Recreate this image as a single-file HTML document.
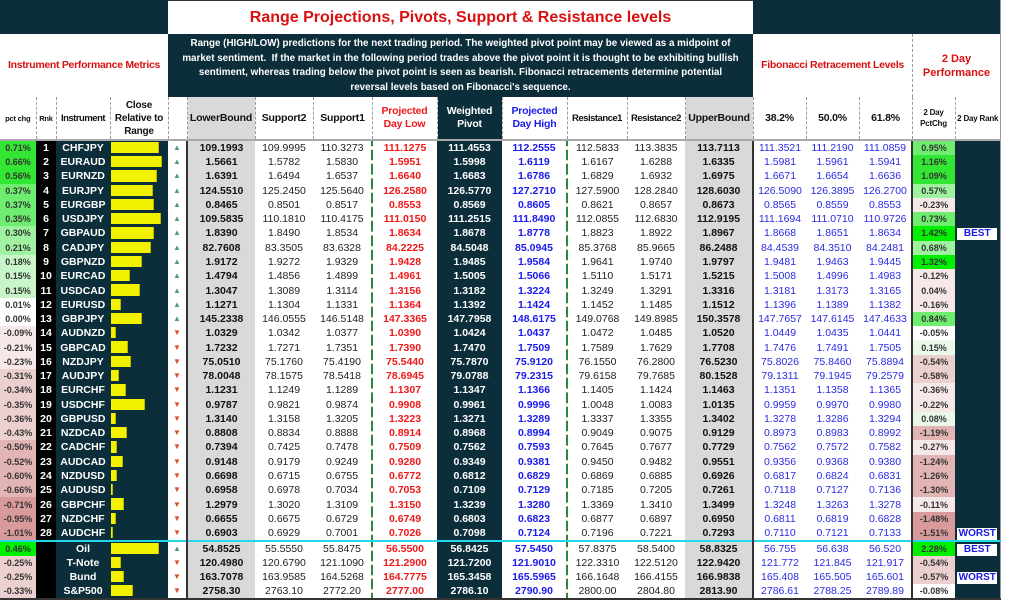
<!DOCTYPE html>
<html><head><meta charset="utf-8"><style>
*{margin:0;padding:0;box-sizing:border-box}
body{width:1024px;height:614px;background:#fff;font-family:"Liberation Sans",Tahoma,sans-serif;position:relative;overflow:hidden}
.abs{position:absolute}
.dk{background:#0c2e3b}
table{position:absolute;left:0;top:97px;width:1000px;border-collapse:collapse;table-layout:fixed}
td{font-size:10.5px;text-align:center;white-space:nowrap;overflow:hidden;height:14.28px;line-height:14px;padding:0}
thead td{height:43px;white-space:normal;font-weight:bold;font-size:10.5px;line-height:13px;border-bottom:2px solid #aaa;border-left:1px dashed #999;color:#111;letter-spacing:-0.2px}
.p{font-size:9px;color:#333;font-weight:bold}
.k{background:#000;color:#fff;font-weight:bold}
.n{background:#0c2e3b;color:#fff;font-weight:bold}
.b{background:#0c2e3b;position:relative;text-align:left}
.b i{position:absolute;left:1px;top:1px;bottom:2px;background:#f2f200;border-right:1px solid #b8b800}
.a{font-size:8px}
.up{color:#4f9a85}.dn{color:#d4512c}
.lb{background:#d9d9d9;font-weight:bold;color:#111;border-left:2px solid #333}
.s{color:#222}
.pl{color:#f01818;font-weight:bold;border-left:2px dashed #2a8a3a}
.wp{background:#0c2e3b;color:#fff;font-weight:bold}
.ph{color:#1a1aee;font-weight:bold}
.r1{color:#222;border-left:2px dashed #2a8a3a}
.ub{background:#d9d9d9;font-weight:bold;color:#111;border-right:2px solid #333}
.f{color:#2a2ae6}
.d{font-size:9px;font-weight:bold;color:#333;border-left:2px solid #333}
.x{background:#0c2e3b;border-right:1px solid #999}
.x span{display:inline-block;background:#fff;color:#1a1ae6;font-weight:bold;width:40px;line-height:12px;font-size:10px}
.g0{background:#00f000}.g1{background:#33e633}.g2{background:#6eed6e}.g3{background:#9ff29f}.g4{background:#c8f6c8}.g5{background:#eaf8ea}.w{background:#fff}
.r1c{background:#f7e8e8}.r2c{background:#ecd0d0}.r3c{background:#e2b4b4}.r4c{background:#d89a9a}
tr.cy td{border-top:2px solid #22d8e8}
tbody tr:last-child td{border-bottom:2px solid #333}
</style></head><body>
<div class="abs dk" style="left:0;top:0;width:168px;height:34px"></div>
<div class="abs" style="left:168px;top:0;width:585px;height:34px;color:#d81010;font-weight:bold;font-size:16px;text-align:center;line-height:34px;border-top:1px solid #333">Range Projections, Pivots, Support &amp; Resistance levels</div>
<div class="abs dk" style="left:753px;top:0;width:247px;height:34px"></div>
<div class="abs" style="left:0;top:34px;width:168px;height:63px;color:#d81010;font-weight:bold;font-size:10.5px;text-align:center;line-height:63px;white-space:nowrap;letter-spacing:-0.3px">Instrument Performance Metrics</div>
<div class="abs dk" style="left:168px;top:34px;width:585px;height:63px;color:#fff;font-weight:bold;font-size:9.8px;text-align:center;line-height:14.5px;padding:3px 0 0;white-space:nowrap">Range (HIGH/LOW) predictions for the next trading period. The weighted pivot point may be viewed as a midpoint of<br>market sentiment.&nbsp; If the market in the following period trades above the pivot point it is thought to be exhibiting bullish<br>sentiment, whereas trading below the pivot point is seen as bearish. Fibonacci retracements determine potential<br>reversal levels based on Fibonacci's sequence.</div>
<div class="abs" style="left:753px;top:34px;width:159px;height:63px;color:#d81010;font-weight:bold;font-size:10.5px;text-align:center;line-height:63px;white-space:nowrap;letter-spacing:-0.3px">Fibonacci Retracement Levels</div>
<div class="abs" style="left:912px;top:34px;width:88px;height:63px;color:#d81010;font-weight:bold;font-size:11px;text-align:center;line-height:14px;padding-top:18px;border-left:1px dashed #999">2 Day<br>Performance</div>
<div class="abs" style="left:1000px;top:0;width:1px;height:597px;background:#999"></div>
<table>
<colgroup><col style="width:36px"><col style="width:20px"><col style="width:54px"><col style="width:58px"><col style="width:19px"><col style="width:68px"><col style="width:58px"><col style="width:59px"><col style="width:65px"><col style="width:65px"><col style="width:65px"><col style="width:60px"><col style="width:58px"><col style="width:68px"><col style="width:53px"><col style="width:53px"><col style="width:53px"><col style="width:43px"><col style="width:45px"></colgroup>
<thead><tr><td style="font-size:7.5px;border-left:none">pct chg</td><td style="font-size:7.5px">Rnk</td><td style="font-size:9.5px;letter-spacing:-0.5px">Instrument</td><td style="font-size:10px">Close Relative to Range</td><td></td><td style="background:#d9d9d9">LowerBound</td><td>Support2</td><td>Support1</td><td style="color:#f01818">Projected Day Low</td><td style="background:#0c2e3b;color:#fff">Weighted Pivot</td><td style="color:#1a1aee">Projected Day High</td><td style="font-size:9.5px;letter-spacing:-0.5px">Resistance1</td><td style="font-size:9.5px;letter-spacing:-0.5px">Resistance2</td><td style="background:#d9d9d9">UpperBound</td><td>38.2%</td><td>50.0%</td><td>61.8%</td><td style="font-size:8px;line-height:11px">2 Day PctChg</td><td style="font-size:8px;line-height:11px">2 Day Rank</td></tr></thead>
<tbody>
<tr><td class="p g1">0.71%</td><td class="k">1</td><td class="n">CHFJPY</td><td class="b"><i style="width:83%"></i></td><td class="a up">▲</td><td class="lb">109.1993</td><td class="s">109.9995</td><td class="s">110.3273</td><td class="pl">111.1275</td><td class="wp">111.4553</td><td class="ph">112.2555</td><td class="r1">112.5833</td><td class="s">113.3835</td><td class="ub">113.7113</td><td class="f">111.3521</td><td class="f">111.2190</td><td class="f">111.0859</td><td class="d g2">0.95%</td><td class="x"></td></tr>
<tr><td class="p g1">0.66%</td><td class="k">2</td><td class="n">EURAUD</td><td class="b"><i style="width:88%"></i></td><td class="a up">▲</td><td class="lb">1.5661</td><td class="s">1.5782</td><td class="s">1.5830</td><td class="pl">1.5951</td><td class="wp">1.5998</td><td class="ph">1.6119</td><td class="r1">1.6167</td><td class="s">1.6288</td><td class="ub">1.6335</td><td class="f">1.5981</td><td class="f">1.5961</td><td class="f">1.5941</td><td class="d g1">1.16%</td><td class="x"></td></tr>
<tr><td class="p g1">0.56%</td><td class="k">3</td><td class="n">EURNZD</td><td class="b"><i style="width:80%"></i></td><td class="a up">▲</td><td class="lb">1.6391</td><td class="s">1.6494</td><td class="s">1.6537</td><td class="pl">1.6640</td><td class="wp">1.6683</td><td class="ph">1.6786</td><td class="r1">1.6829</td><td class="s">1.6932</td><td class="ub">1.6975</td><td class="f">1.6671</td><td class="f">1.6654</td><td class="f">1.6636</td><td class="d g1">1.09%</td><td class="x"></td></tr>
<tr><td class="p g2">0.37%</td><td class="k">4</td><td class="n">EURJPY</td><td class="b"><i style="width:73%"></i></td><td class="a up">▲</td><td class="lb">124.5510</td><td class="s">125.2450</td><td class="s">125.5640</td><td class="pl">126.2580</td><td class="wp">126.5770</td><td class="ph">127.2710</td><td class="r1">127.5900</td><td class="s">128.2840</td><td class="ub">128.6030</td><td class="f">126.5090</td><td class="f">126.3895</td><td class="f">126.2700</td><td class="d g3">0.57%</td><td class="x"></td></tr>
<tr><td class="p g2">0.37%</td><td class="k">5</td><td class="n">EURGBP</td><td class="b"><i style="width:74%"></i></td><td class="a up">▲</td><td class="lb">0.8465</td><td class="s">0.8501</td><td class="s">0.8517</td><td class="pl">0.8553</td><td class="wp">0.8569</td><td class="ph">0.8605</td><td class="r1">0.8621</td><td class="s">0.8657</td><td class="ub">0.8673</td><td class="f">0.8565</td><td class="f">0.8559</td><td class="f">0.8553</td><td class="d r1c">-0.23%</td><td class="x"></td></tr>
<tr><td class="p g2">0.35%</td><td class="k">6</td><td class="n">USDJPY</td><td class="b"><i style="width:86%"></i></td><td class="a up">▲</td><td class="lb">109.5835</td><td class="s">110.1810</td><td class="s">110.4175</td><td class="pl">111.0150</td><td class="wp">111.2515</td><td class="ph">111.8490</td><td class="r1">112.0855</td><td class="s">112.6830</td><td class="ub">112.9195</td><td class="f">111.1694</td><td class="f">111.0710</td><td class="f">110.9726</td><td class="d g2">0.73%</td><td class="x"></td></tr>
<tr><td class="p g3">0.30%</td><td class="k">7</td><td class="n">GBPAUD</td><td class="b"><i style="width:74%"></i></td><td class="a up">▲</td><td class="lb">1.8390</td><td class="s">1.8490</td><td class="s">1.8534</td><td class="pl">1.8634</td><td class="wp">1.8678</td><td class="ph">1.8778</td><td class="r1">1.8823</td><td class="s">1.8922</td><td class="ub">1.8967</td><td class="f">1.8668</td><td class="f">1.8651</td><td class="f">1.8634</td><td class="d g0">1.42%</td><td class="x"><span>BEST</span></td></tr>
<tr><td class="p g3">0.21%</td><td class="k">8</td><td class="n">CADJPY</td><td class="b"><i style="width:69%"></i></td><td class="a up">▲</td><td class="lb">82.7608</td><td class="s">83.3505</td><td class="s">83.6328</td><td class="pl">84.2225</td><td class="wp">84.5048</td><td class="ph">85.0945</td><td class="r1">85.3768</td><td class="s">85.9665</td><td class="ub">86.2488</td><td class="f">84.4539</td><td class="f">84.3510</td><td class="f">84.2481</td><td class="d g3">0.68%</td><td class="x"></td></tr>
<tr><td class="p g4">0.18%</td><td class="k">9</td><td class="n">GBPNZD</td><td class="b"><i style="width:54%"></i></td><td class="a up">▲</td><td class="lb">1.9172</td><td class="s">1.9272</td><td class="s">1.9329</td><td class="pl">1.9428</td><td class="wp">1.9485</td><td class="ph">1.9584</td><td class="r1">1.9641</td><td class="s">1.9740</td><td class="ub">1.9797</td><td class="f">1.9481</td><td class="f">1.9463</td><td class="f">1.9445</td><td class="d g0">1.32%</td><td class="x"></td></tr>
<tr><td class="p g4">0.15%</td><td class="k">10</td><td class="n">EURCAD</td><td class="b"><i style="width:33%"></i></td><td class="a up">▲</td><td class="lb">1.4794</td><td class="s">1.4856</td><td class="s">1.4899</td><td class="pl">1.4961</td><td class="wp">1.5005</td><td class="ph">1.5066</td><td class="r1">1.5110</td><td class="s">1.5171</td><td class="ub">1.5215</td><td class="f">1.5008</td><td class="f">1.4996</td><td class="f">1.4983</td><td class="d r1c">-0.12%</td><td class="x"></td></tr>
<tr><td class="p g4">0.15%</td><td class="k">11</td><td class="n">USDCAD</td><td class="b"><i style="width:50%"></i></td><td class="a up">▲</td><td class="lb">1.3047</td><td class="s">1.3089</td><td class="s">1.3114</td><td class="pl">1.3156</td><td class="wp">1.3182</td><td class="ph">1.3224</td><td class="r1">1.3249</td><td class="s">1.3291</td><td class="ub">1.3316</td><td class="f">1.3181</td><td class="f">1.3173</td><td class="f">1.3165</td><td class="d r1c">0.04%</td><td class="x"></td></tr>
<tr><td class="p w">0.01%</td><td class="k">12</td><td class="n">EURUSD</td><td class="b"><i style="width:18%"></i></td><td class="a up">▲</td><td class="lb">1.1271</td><td class="s">1.1304</td><td class="s">1.1331</td><td class="pl">1.1364</td><td class="wp">1.1392</td><td class="ph">1.1424</td><td class="r1">1.1452</td><td class="s">1.1485</td><td class="ub">1.1512</td><td class="f">1.1396</td><td class="f">1.1389</td><td class="f">1.1382</td><td class="d r1c">-0.16%</td><td class="x"></td></tr>
<tr><td class="p w">0.00%</td><td class="k">13</td><td class="n">GBPJPY</td><td class="b"><i style="width:54%"></i></td><td class="a up">▲</td><td class="lb">145.2338</td><td class="s">146.0555</td><td class="s">146.5148</td><td class="pl">147.3365</td><td class="wp">147.7958</td><td class="ph">148.6175</td><td class="r1">149.0768</td><td class="s">149.8985</td><td class="ub">150.3578</td><td class="f">147.7657</td><td class="f">147.6145</td><td class="f">147.4633</td><td class="d g2">0.84%</td><td class="x"></td></tr>
<tr><td class="p r1c">-0.09%</td><td class="k">14</td><td class="n">AUDNZD</td><td class="b"><i style="width:8%"></i></td><td class="a dn">▼</td><td class="lb">1.0329</td><td class="s">1.0342</td><td class="s">1.0377</td><td class="pl">1.0390</td><td class="wp">1.0424</td><td class="ph">1.0437</td><td class="r1">1.0472</td><td class="s">1.0485</td><td class="ub">1.0520</td><td class="f">1.0449</td><td class="f">1.0435</td><td class="f">1.0441</td><td class="d w">-0.05%</td><td class="x"></td></tr>
<tr><td class="p r1c">-0.21%</td><td class="k">15</td><td class="n">GBPCAD</td><td class="b"><i style="width:30%"></i></td><td class="a dn">▼</td><td class="lb">1.7232</td><td class="s">1.7271</td><td class="s">1.7351</td><td class="pl">1.7390</td><td class="wp">1.7470</td><td class="ph">1.7509</td><td class="r1">1.7589</td><td class="s">1.7629</td><td class="ub">1.7708</td><td class="f">1.7476</td><td class="f">1.7491</td><td class="f">1.7505</td><td class="d g5">0.15%</td><td class="x"></td></tr>
<tr><td class="p r1c">-0.23%</td><td class="k">16</td><td class="n">NZDJPY</td><td class="b"><i style="width:35%"></i></td><td class="a dn">▼</td><td class="lb">75.0510</td><td class="s">75.1760</td><td class="s">75.4190</td><td class="pl">75.5440</td><td class="wp">75.7870</td><td class="ph">75.9120</td><td class="r1">76.1550</td><td class="s">76.2800</td><td class="ub">76.5230</td><td class="f">75.8026</td><td class="f">75.8460</td><td class="f">75.8894</td><td class="d r2c">-0.54%</td><td class="x"></td></tr>
<tr><td class="p r2c">-0.31%</td><td class="k">17</td><td class="n">AUDJPY</td><td class="b"><i style="width:13%"></i></td><td class="a dn">▼</td><td class="lb">78.0048</td><td class="s">78.1575</td><td class="s">78.5418</td><td class="pl">78.6945</td><td class="wp">79.0788</td><td class="ph">79.2315</td><td class="r1">79.6158</td><td class="s">79.7685</td><td class="ub">80.1528</td><td class="f">79.1311</td><td class="f">79.1945</td><td class="f">79.2579</td><td class="d r2c">-0.58%</td><td class="x"></td></tr>
<tr><td class="p r2c">-0.34%</td><td class="k">18</td><td class="n">EURCHF</td><td class="b"><i style="width:25%"></i></td><td class="a dn">▼</td><td class="lb">1.1231</td><td class="s">1.1249</td><td class="s">1.1289</td><td class="pl">1.1307</td><td class="wp">1.1347</td><td class="ph">1.1366</td><td class="r1">1.1405</td><td class="s">1.1424</td><td class="ub">1.1463</td><td class="f">1.1351</td><td class="f">1.1358</td><td class="f">1.1365</td><td class="d r1c">-0.36%</td><td class="x"></td></tr>
<tr><td class="p r2c">-0.35%</td><td class="k">19</td><td class="n">USDCHF</td><td class="b"><i style="width:58%"></i></td><td class="a dn">▼</td><td class="lb">0.9787</td><td class="s">0.9821</td><td class="s">0.9874</td><td class="pl">0.9908</td><td class="wp">0.9961</td><td class="ph">0.9996</td><td class="r1">1.0048</td><td class="s">1.0083</td><td class="ub">1.0135</td><td class="f">0.9959</td><td class="f">0.9970</td><td class="f">0.9980</td><td class="d r1c">-0.22%</td><td class="x"></td></tr>
<tr><td class="p r2c">-0.36%</td><td class="k">20</td><td class="n">GBPUSD</td><td class="b"><i style="width:8%"></i></td><td class="a dn">▼</td><td class="lb">1.3140</td><td class="s">1.3158</td><td class="s">1.3205</td><td class="pl">1.3223</td><td class="wp">1.3271</td><td class="ph">1.3289</td><td class="r1">1.3337</td><td class="s">1.3355</td><td class="ub">1.3402</td><td class="f">1.3278</td><td class="f">1.3286</td><td class="f">1.3294</td><td class="d g5">0.08%</td><td class="x"></td></tr>
<tr><td class="p r2c">-0.43%</td><td class="k">21</td><td class="n">NZDCAD</td><td class="b"><i style="width:28%"></i></td><td class="a dn">▼</td><td class="lb">0.8808</td><td class="s">0.8834</td><td class="s">0.8888</td><td class="pl">0.8914</td><td class="wp">0.8968</td><td class="ph">0.8994</td><td class="r1">0.9049</td><td class="s">0.9075</td><td class="ub">0.9129</td><td class="f">0.8973</td><td class="f">0.8983</td><td class="f">0.8992</td><td class="d r3c">-1.19%</td><td class="x"></td></tr>
<tr><td class="p r3c">-0.50%</td><td class="k">22</td><td class="n">CADCHF</td><td class="b"><i style="width:10%"></i></td><td class="a dn">▼</td><td class="lb">0.7394</td><td class="s">0.7425</td><td class="s">0.7478</td><td class="pl">0.7509</td><td class="wp">0.7562</td><td class="ph">0.7593</td><td class="r1">0.7645</td><td class="s">0.7677</td><td class="ub">0.7729</td><td class="f">0.7562</td><td class="f">0.7572</td><td class="f">0.7582</td><td class="d r1c">-0.27%</td><td class="x"></td></tr>
<tr><td class="p r3c">-0.52%</td><td class="k">23</td><td class="n">AUDCAD</td><td class="b"><i style="width:20%"></i></td><td class="a dn">▼</td><td class="lb">0.9148</td><td class="s">0.9179</td><td class="s">0.9249</td><td class="pl">0.9280</td><td class="wp">0.9349</td><td class="ph">0.9381</td><td class="r1">0.9450</td><td class="s">0.9482</td><td class="ub">0.9551</td><td class="f">0.9356</td><td class="f">0.9368</td><td class="f">0.9380</td><td class="d r3c">-1.24%</td><td class="x"></td></tr>
<tr><td class="p r3c">-0.60%</td><td class="k">24</td><td class="n">NZDUSD</td><td class="b"><i style="width:10%"></i></td><td class="a dn">▼</td><td class="lb">0.6698</td><td class="s">0.6715</td><td class="s">0.6755</td><td class="pl">0.6772</td><td class="wp">0.6812</td><td class="ph">0.6829</td><td class="r1">0.6869</td><td class="s">0.6885</td><td class="ub">0.6926</td><td class="f">0.6817</td><td class="f">0.6824</td><td class="f">0.6831</td><td class="d r3c">-1.26%</td><td class="x"></td></tr>
<tr><td class="p r3c">-0.66%</td><td class="k">25</td><td class="n">AUDUSD</td><td class="b"><i style="width:3%"></i></td><td class="a dn">▼</td><td class="lb">0.6958</td><td class="s">0.6978</td><td class="s">0.7034</td><td class="pl">0.7053</td><td class="wp">0.7109</td><td class="ph">0.7129</td><td class="r1">0.7185</td><td class="s">0.7205</td><td class="ub">0.7261</td><td class="f">0.7118</td><td class="f">0.7127</td><td class="f">0.7136</td><td class="d r3c">-1.30%</td><td class="x"></td></tr>
<tr><td class="p r4c">-0.71%</td><td class="k">26</td><td class="n">GBPCHF</td><td class="b"><i style="width:22%"></i></td><td class="a dn">▼</td><td class="lb">1.2979</td><td class="s">1.3020</td><td class="s">1.3109</td><td class="pl">1.3150</td><td class="wp">1.3239</td><td class="ph">1.3280</td><td class="r1">1.3369</td><td class="s">1.3410</td><td class="ub">1.3499</td><td class="f">1.3248</td><td class="f">1.3263</td><td class="f">1.3278</td><td class="d r1c">-0.11%</td><td class="x"></td></tr>
<tr><td class="p r4c">-0.95%</td><td class="k">27</td><td class="n">NZDCHF</td><td class="b"><i style="width:8%"></i></td><td class="a dn">▼</td><td class="lb">0.6655</td><td class="s">0.6675</td><td class="s">0.6729</td><td class="pl">0.6749</td><td class="wp">0.6803</td><td class="ph">0.6823</td><td class="r1">0.6877</td><td class="s">0.6897</td><td class="ub">0.6950</td><td class="f">0.6811</td><td class="f">0.6819</td><td class="f">0.6828</td><td class="d r4c">-1.48%</td><td class="x"></td></tr>
<tr><td class="p r4c">-1.01%</td><td class="k">28</td><td class="n">AUDCHF</td><td class="b"><i style="width:3%"></i></td><td class="a dn">▼</td><td class="lb">0.6903</td><td class="s">0.6929</td><td class="s">0.7001</td><td class="pl">0.7026</td><td class="wp">0.7098</td><td class="ph">0.7124</td><td class="r1">0.7196</td><td class="s">0.7221</td><td class="ub">0.7293</td><td class="f">0.7110</td><td class="f">0.7121</td><td class="f">0.7133</td><td class="d r4c">-1.51%</td><td class="x"><span>WORST</span></td></tr>
<tr class="cy"><td class="p g0">0.46%</td><td class="k"></td><td class="n">Oil</td><td class="b"><i style="width:83%"></i></td><td class="a up">▲</td><td class="lb">54.8525</td><td class="s">55.5550</td><td class="s">55.8475</td><td class="pl">56.5500</td><td class="wp">56.8425</td><td class="ph">57.5450</td><td class="r1">57.8375</td><td class="s">58.5400</td><td class="ub">58.8325</td><td class="f">56.755</td><td class="f">56.638</td><td class="f">56.520</td><td class="d g0">2.28%</td><td class="x"><span>BEST</span></td></tr>
<tr><td class="p r2c">-0.25%</td><td class="k"></td><td class="n">T-Note</td><td class="b"><i style="width:18%"></i></td><td class="a dn">▼</td><td class="lb">120.4980</td><td class="s">120.6790</td><td class="s">121.1090</td><td class="pl">121.2900</td><td class="wp">121.7200</td><td class="ph">121.9010</td><td class="r1">122.3310</td><td class="s">122.5120</td><td class="ub">122.9420</td><td class="f">121.772</td><td class="f">121.845</td><td class="f">121.917</td><td class="d r2c">-0.54%</td><td class="x"></td></tr>
<tr><td class="p r2c">-0.25%</td><td class="k"></td><td class="n">Bund</td><td class="b"><i style="width:22%"></i></td><td class="a dn">▼</td><td class="lb">163.7078</td><td class="s">163.9585</td><td class="s">164.5268</td><td class="pl">164.7775</td><td class="wp">165.3458</td><td class="ph">165.5965</td><td class="r1">166.1648</td><td class="s">166.4155</td><td class="ub">166.9838</td><td class="f">165.408</td><td class="f">165.505</td><td class="f">165.601</td><td class="d r2c">-0.57%</td><td class="x"><span>WORST</span></td></tr>
<tr><td class="p r2c">-0.33%</td><td class="k"></td><td class="n">S&amp;P500</td><td class="b"><i style="width:38%"></i></td><td class="a dn">▼</td><td class="lb">2758.30</td><td class="s">2763.10</td><td class="s">2772.20</td><td class="pl">2777.00</td><td class="wp">2786.10</td><td class="ph">2790.90</td><td class="r1">2800.00</td><td class="s">2804.80</td><td class="ub">2813.90</td><td class="f">2786.61</td><td class="f">2788.25</td><td class="f">2789.89</td><td class="d w">-0.08%</td><td class="x"></td></tr>
</tbody></table>
</body></html>
